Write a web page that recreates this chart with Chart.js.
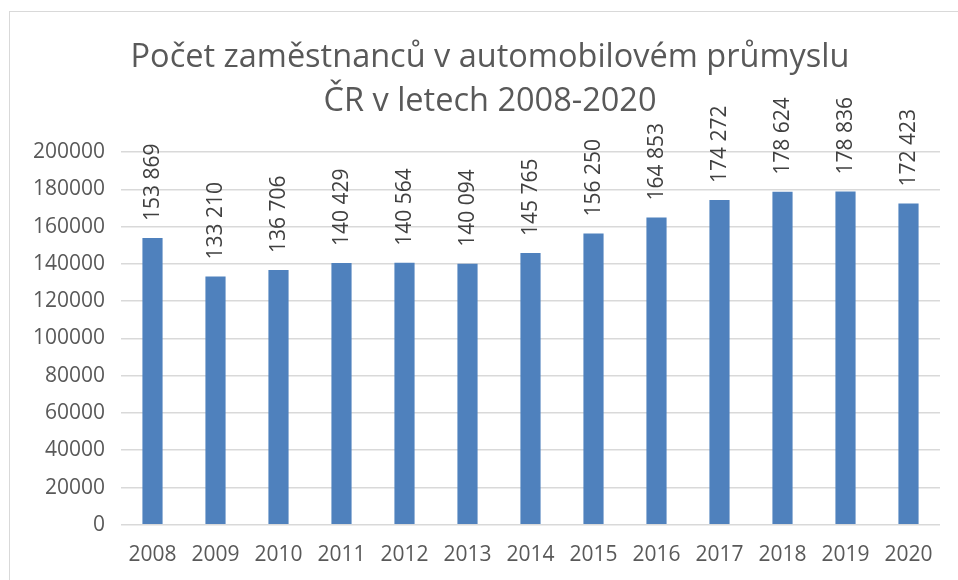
<!DOCTYPE html>
<html>
<head>
<meta charset="utf-8">
<script src="https://cdn.jsdelivr.net/npm/chart.js@4.4.0/dist/chart.umd.min.js"></script>
<style>
  html, body { margin: 0; padding: 0; background: #fff; overflow: hidden; }
  #wrap { position: absolute; left: 0; top: 0; width: 958px; height: 580px; }
  #frame { position: absolute; left: 9px; top: 11px; width: 960px; height: 600px; border: 1px solid #d9d9d9; pointer-events: none; }
</style>
</head>
<body>
<div id="frame"></div>
<div id="wrap"><canvas id="chart" width="958" height="580"></canvas></div>
<script>
  // categories and values
  const years = ['2008','2009','2010','2011','2012','2013','2014','2015','2016','2017','2018','2019','2020'];
  const employees = [153869, 133210, 136706, 140429, 140564, 140094, 145765, 156250, 164853, 174272, 178624, 178836, 172423];
  const titleLines = ['Počet zaměstnanců v automobilovém průmyslu', 'ČR v letech 2008-2020'];

  const fontFamily = '"Open Sans", "Noto Sans", sans-serif';

  function fmtSpace(v) {
    return String(v).replace(/\B(?=(\d{3})+(?!\d))/g, ' ');
  }

  // title is drawn by hand so it can sit a bit right of the canvas centre, like the original
  const chartTitle = {
    id: 'chartTitle',
    afterDraw(chart) {
      const ctx = chart.ctx;
      ctx.save();
      ctx.font = '32.5px ' + fontFamily;
      ctx.fillStyle = '#595959';
      ctx.textAlign = 'center';
      ctx.textBaseline = 'middle';
      ctx.fillText(titleLines[0], 490, 58);
      ctx.fillText(titleLines[1], 490, 102);
      ctx.restore();
    }
  };

  // vertical value labels above each bar
  const barLabels = {
    id: 'barLabels',
    afterDatasetsDraw(chart) {
      const ctx = chart.ctx;
      const meta = chart.getDatasetMeta(0);
      ctx.save();
      ctx.font = '21px ' + fontFamily;
      ctx.fillStyle = '#404040';
      ctx.textAlign = 'left';
      ctx.textBaseline = 'middle';
      meta.data.forEach(function(bar, i) {
        ctx.save();
        ctx.translate(bar.x, bar.y - 17);
        ctx.rotate(-Math.PI / 2);
        ctx.fillText(fmtSpace(employees[i]), 0, 1);
        ctx.restore();
      });
      ctx.restore();
    }
  };

  const ctx = document.getElementById('chart').getContext('2d');
  new Chart(ctx, {
    type: 'bar',
    data: {
      labels: years,
      datasets: [{
        data: employees,
        backgroundColor: '#4f81bd',
        borderWidth: 0,
        categoryPercentage: 1,
        barPercentage: 0.32
      }]
    },
    options: {
      responsive: false,
      animation: false,
      layout: { padding: { left: 0, right: 18, top: 152, bottom: 2 } },
      plugins: {
        legend: { display: false },
        tooltip: { enabled: false },
        title: { display: false }
      },
      scales: {
        x: {
          grid: { display: false },
          border: { display: false },
          ticks: { color: '#595959', font: { family: fontFamily, size: 21 }, padding: 10, maxRotation: 0 }
        },
        y: {
          min: 0,
          max: 200000,
          afterFit: function(scale) { scale.width = 121; },
          ticks: {
            stepSize: 20000,
            color: '#595959',
            font: { family: fontFamily, size: 21 },
            padding: 16,
            callback: function(v) { return String(v); }
          },
          grid: { color: '#d9d9d9', lineWidth: 1.5, drawTicks: false },
          border: { display: false }
        }
      }
    },
    plugins: [barLabels, chartTitle]
  });
</script>
</body>
</html>
